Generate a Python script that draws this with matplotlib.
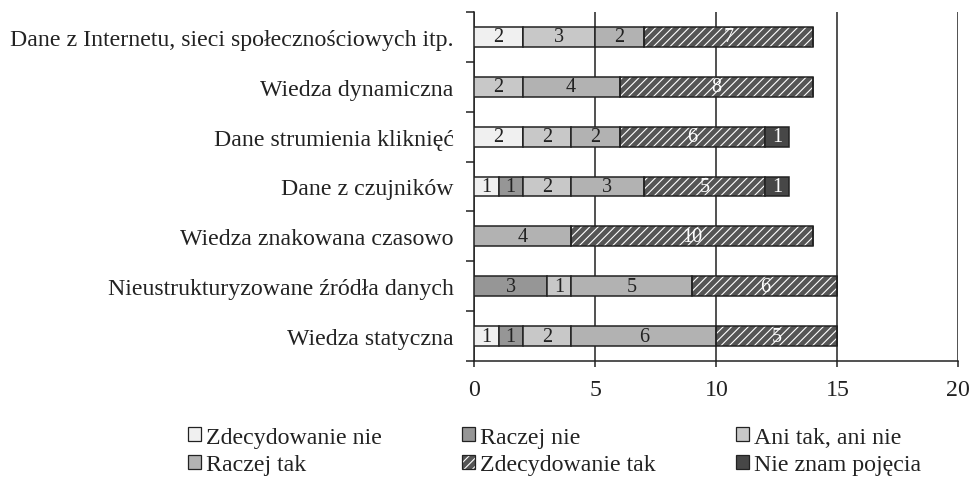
import numpy as np
import matplotlib as mpl
mpl.use('Agg')
import matplotlib.pyplot as plt
from matplotlib.patches import Patch
from matplotlib.ticker import MultipleLocator, FixedLocator

plt.rcParams['font.family'] = 'Liberation Serif'
plt.rcParams['hatch.linewidth'] = 0.8

# categories bottom -> top
categories = ["Wiedza statyczna",
              "Nieustrukturyzowane źródła danych",
              "Wiedza znakowana czasowo",
              "Dane z czujników",
              "Dane strumienia kliknięć",
              "Wiedza dynamiczna",
              "Dane z Internetu, sieci społecznościowych itp."]
zdecydowanie_nie = [1, 0, 0, 1, 2, 0, 2]
raczej_nie = [1, 3, 0, 1, 0, 0, 0]
ani_tak_ani_nie = [2, 1, 0, 2, 2, 2, 3]
raczej_tak = [6, 5, 4, 3, 2, 4, 2]
zdecydowanie_tak = [5, 6, 10, 5, 6, 8, 7]
nie_znam = [0, 0, 0, 1, 1, 0, 0]

series = [
    ("Zdecydowanie nie", zdecydowanie_nie, "#f0f0f0", None, "#222222"),
    ("Raczej nie", raczej_nie, "#969696", None, "#222222"),
    ("Ani tak, ani nie", ani_tak_ani_nie, "#c8c8c8", None, "#222222"),
    ("Raczej tak", raczej_tak, "#b2b2b2", None, "#222222"),
    ("Zdecydowanie tak", zdecydowanie_tak, "#555555", "////", "white"),
    ("Nie znam pojęcia", nie_znam, "#474747", None, "white"),
]

fs = 17.2

fig = plt.figure(figsize=(9.72, 4.81), dpi=100)
ax = fig.add_axes([0.488, 0.2474, 0.498, 0.7256])

y = np.arange(len(categories))
left = np.zeros(len(categories))
h = 0.4
handles = {}
for name, vals, color, hatch, tcol in series:
    vals = np.array(vals, dtype=float)
    if hatch:
        ax.barh(y, vals, h, left=left, color=color, hatch=hatch,
                edgecolor='white', linewidth=0, zorder=2)
        ax.barh(y, vals, h, left=left, fill=False, edgecolor='#222222',
                linewidth=1.1, zorder=3)
        handles[name] = (Patch(facecolor=color, hatch=hatch, edgecolor='white', linewidth=0),
                         Patch(fill=False, edgecolor='#222222', linewidth=0.9))
    else:
        ax.barh(y, vals, h, left=left, color=color, edgecolor='#222222',
                linewidth=1.1, zorder=3)
        handles[name] = Patch(facecolor=color, edgecolor='#222222', linewidth=0.9)
    for yi, (l, v) in enumerate(zip(left, vals)):
        if v > 0:
            ax.text(l + v / 2, yi, f"{int(v)}", ha='center', va='center',
                    fontsize=14.5, color=tcol, zorder=4)
    left += vals

ax.set_xlim(0, 20)
ax.set_ylim(-0.5, len(categories) - 0.5)
ax.xaxis.set_major_locator(MultipleLocator(5))
ax.set_yticks(y)
ax.set_yticklabels(categories)
ax.yaxis.set_minor_locator(FixedLocator(np.arange(-0.5, len(categories), 1)))

ax.grid(axis='x', color='#222222', linewidth=1.1)
ax.set_axisbelow(True)
for s in ['top', 'right']:
    ax.spines[s].set_visible(False)
for s in ['left', 'bottom']:
    ax.spines[s].set_linewidth(1.1)
    ax.spines[s].set_color('#222222')

ax.tick_params(axis='y', which='major', length=0, pad=15, labelsize=fs, labelcolor='#222222')
ax.tick_params(axis='y', which='minor', length=5.5, width=1.1, color='#222222')
ax.tick_params(axis='x', length=4.5, width=1.1, color='#222222', pad=8.5,
               labelsize=fs, labelcolor='#222222')

order = ["Zdecydowanie nie", "Raczej tak", "Raczej nie", "Zdecydowanie tak",
         "Ani tak, ani nie", "Nie znam pojęcia"]
fig.legend([handles[n] for n in order], order, ncol=3, frameon=False,
           loc='center left', bbox_to_anchor=(0.1934, 0.0605),
           fontsize=fs, handlelength=0.55, handleheight=0.55,
           handletextpad=0.2, columnspacing=3.37, labelspacing=0.28,
           borderaxespad=0, borderpad=0, labelcolor='#222222')

fig.savefig('out.png', dpi=100)
